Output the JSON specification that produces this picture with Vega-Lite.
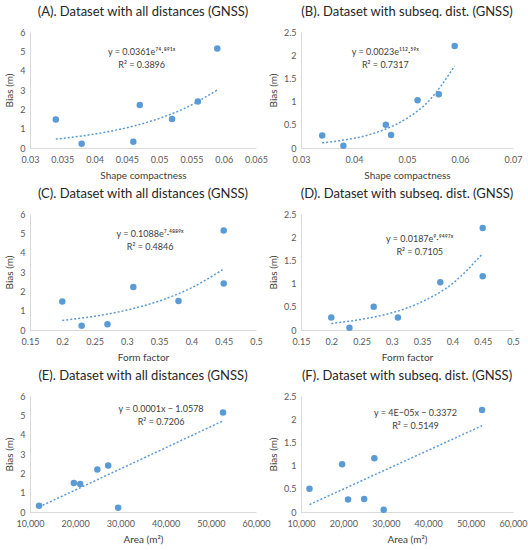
{
  "$schema": "https://vega.github.io/schema/vega-lite/v6.json",
  "padding": {"left": 4, "top": 6, "right": 2, "bottom": 2},
  "datasets": {
    "pts": [
      {"panel": "A", "x": 0.034, "y": 1.47}, {"panel": "A", "x": 0.038, "y": 0.22}, {"panel": "A", "x": 0.046, "y": 0.32},
      {"panel": "A", "x": 0.047, "y": 2.22}, {"panel": "A", "x": 0.052, "y": 1.5}, {"panel": "A", "x": 0.056, "y": 2.4},
      {"panel": "A", "x": 0.059, "y": 5.15},
      {"panel": "B", "x": 0.034, "y": 0.27}, {"panel": "B", "x": 0.038, "y": 0.05}, {"panel": "B", "x": 0.046, "y": 0.5},
      {"panel": "B", "x": 0.047, "y": 0.28}, {"panel": "B", "x": 0.052, "y": 1.03}, {"panel": "B", "x": 0.056, "y": 1.16},
      {"panel": "B", "x": 0.059, "y": 2.2},
      {"panel": "C", "x": 0.2, "y": 1.47}, {"panel": "C", "x": 0.23, "y": 0.22}, {"panel": "C", "x": 0.27, "y": 0.3},
      {"panel": "C", "x": 0.31, "y": 2.22}, {"panel": "C", "x": 0.38, "y": 1.5}, {"panel": "C", "x": 0.45, "y": 2.4},
      {"panel": "C", "x": 0.45, "y": 5.15},
      {"panel": "D", "x": 0.2, "y": 0.27}, {"panel": "D", "x": 0.23, "y": 0.05}, {"panel": "D", "x": 0.27, "y": 0.5},
      {"panel": "D", "x": 0.31, "y": 0.27}, {"panel": "D", "x": 0.38, "y": 1.03}, {"panel": "D", "x": 0.45, "y": 1.16},
      {"panel": "D", "x": 0.45, "y": 2.2},
      {"panel": "E", "x": 12000, "y": 0.32}, {"panel": "E", "x": 19700, "y": 1.5}, {"panel": "E", "x": 21100, "y": 1.45},
      {"panel": "E", "x": 24900, "y": 2.2}, {"panel": "E", "x": 27300, "y": 2.4}, {"panel": "E", "x": 29500, "y": 0.22},
      {"panel": "E", "x": 52700, "y": 5.15},
      {"panel": "F", "x": 12000, "y": 0.5}, {"panel": "F", "x": 19700, "y": 1.03}, {"panel": "F", "x": 21100, "y": 0.27},
      {"panel": "F", "x": 24900, "y": 0.28}, {"panel": "F", "x": 27300, "y": 1.16}, {"panel": "F", "x": 29500, "y": 0.05},
      {"panel": "F", "x": 52700, "y": 2.2}
    ],
    "trend": [
      {"panel": "A", "x": 0.034, "y": 0.46}, {"panel": "A", "x": 0.038, "y": 0.62}, {"panel": "A", "x": 0.042, "y": 0.84},
      {"panel": "A", "x": 0.046, "y": 1.13}, {"panel": "A", "x": 0.05, "y": 1.53}, {"panel": "A", "x": 0.054, "y": 2.06},
      {"panel": "A", "x": 0.059, "y": 3.0},
      {"panel": "B", "x": 0.034, "y": 0.11}, {"panel": "B", "x": 0.038, "y": 0.17}, {"panel": "B", "x": 0.042, "y": 0.26},
      {"panel": "B", "x": 0.046, "y": 0.41}, {"panel": "B", "x": 0.05, "y": 0.64}, {"panel": "B", "x": 0.054, "y": 1.0},
      {"panel": "B", "x": 0.059, "y": 1.77},
      {"panel": "C", "x": 0.2, "y": 0.49}, {"panel": "C", "x": 0.25, "y": 0.71}, {"panel": "C", "x": 0.3, "y": 1.03},
      {"panel": "C", "x": 0.35, "y": 1.5}, {"panel": "C", "x": 0.4, "y": 2.18}, {"panel": "C", "x": 0.45, "y": 3.16},
      {"panel": "D", "x": 0.2, "y": 0.14}, {"panel": "D", "x": 0.25, "y": 0.23}, {"panel": "D", "x": 0.3, "y": 0.37},
      {"panel": "D", "x": 0.35, "y": 0.61}, {"panel": "D", "x": 0.4, "y": 1.0}, {"panel": "D", "x": 0.45, "y": 1.65},
      {"panel": "E", "x": 12000, "y": 0.26}, {"panel": "E", "x": 52700, "y": 4.71},
      {"panel": "F", "x": 12000, "y": 0.16}, {"panel": "F", "x": 52700, "y": 1.86}
    ],
    "eq": [
      {"panel": "A", "x": 0.0473, "y": 4.94, "label": ["y = 0.0361e⁷⁴·⁸⁹¹ˣ", "R² = 0.3896"]},
      {"panel": "B", "x": 0.0459, "y": 2.06, "label": ["y = 0.0023e¹¹²·⁵⁹ˣ", "R² = 0.7317"]},
      {"panel": "C", "x": 0.336, "y": 4.95, "label": ["y = 0.1088e⁷·⁴⁸⁸⁹ˣ", "R² = 0.4846"]},
      {"panel": "D", "x": 0.346, "y": 1.96, "label": ["y = 0.0187e⁹·⁹⁴⁹⁷ˣ", "R² = 0.7105"]},
      {"panel": "E", "x": 39000, "y": 5.33, "label": ["y = 0.0001x − 1.0578", "R² = 0.7206"]},
      {"panel": "F", "x": 37000, "y": 2.14, "label": ["y = 4E−05x − 0.3372", "R² = 0.5149"]}
    ]
  },
  "columns": 2,
  "align": "each",
  "bounds": "flush",
  "spacing": {"column": 45, "row": 66},
  "concat": [
    {
      "title": "(A). Dataset with all distances (GNSS)",
      "width": 226, "height": 116,
      "encoding": {
        "x": {"field": "x", "type": "quantitative", "title": "Shape compactness",
              "scale": {"domain": [0.03, 0.065], "nice": false, "zero": false},
              "axis": {"values": [0.03, 0.035, 0.04, 0.045, 0.05, 0.055, 0.06, 0.065], "format": "~g"}},
        "y": {"field": "y", "type": "quantitative", "title": "Bias (m)",
              "scale": {"domain": [0, 6], "nice": false},
              "axis": {"values": [0, 1, 2, 3, 4, 5, 6], "format": "~g"}}
      },
      "layer": [
        {"data": {"name": "trend"}, "transform": [{"filter": "datum.panel === 'A'"}],
         "mark": {"type": "line", "color": "#5B9BD5", "strokeDash": [2, 2], "strokeWidth": 1.5, "interpolate": "monotone"}},
        {"data": {"name": "pts"}, "transform": [{"filter": "datum.panel === 'A'"}],
         "mark": {"type": "circle", "color": "#5B9BD5", "size": 42, "opacity": 1}},
        {"data": {"name": "eq"}, "transform": [{"filter": "datum.panel === 'A'"}],
         "mark": {"type": "text", "font": "Lato", "fontSize": 9, "color": "#404040", "lineHeight": 13, "baseline": "middle"},
         "encoding": {"text": {"field": "label"}}}
      ]
    },
    {
      "title": "(B). Dataset with subseq. dist. (GNSS)",
      "width": 212, "height": 116,
      "encoding": {
        "x": {"field": "x", "type": "quantitative", "title": "Shape compactness",
              "scale": {"domain": [0.03, 0.07], "nice": false, "zero": false},
              "axis": {"values": [0.03, 0.04, 0.05, 0.06, 0.07], "format": "~g"}},
        "y": {"field": "y", "type": "quantitative", "title": "Bias (m)",
              "scale": {"domain": [0, 2.5], "nice": false},
              "axis": {"values": [0, 0.5, 1, 1.5, 2, 2.5], "format": "~g"}}
      },
      "layer": [
        {"data": {"name": "trend"}, "transform": [{"filter": "datum.panel === 'B'"}],
         "mark": {"type": "line", "color": "#5B9BD5", "strokeDash": [2, 2], "strokeWidth": 1.5, "interpolate": "monotone"}},
        {"data": {"name": "pts"}, "transform": [{"filter": "datum.panel === 'B'"}],
         "mark": {"type": "circle", "color": "#5B9BD5", "size": 42, "opacity": 1}},
        {"data": {"name": "eq"}, "transform": [{"filter": "datum.panel === 'B'"}],
         "mark": {"type": "text", "font": "Lato", "fontSize": 9, "color": "#404040", "lineHeight": 13, "baseline": "middle"},
         "encoding": {"text": {"field": "label"}}}
      ]
    },
    {
      "title": "(C). Dataset with all distances (GNSS)",
      "width": 226, "height": 116,
      "encoding": {
        "x": {"field": "x", "type": "quantitative", "title": "Form factor",
              "scale": {"domain": [0.15, 0.5], "nice": false, "zero": false},
              "axis": {"values": [0.15, 0.2, 0.25, 0.3, 0.35, 0.4, 0.45, 0.5], "format": "~g"}},
        "y": {"field": "y", "type": "quantitative", "title": "Bias (m)",
              "scale": {"domain": [0, 6], "nice": false},
              "axis": {"values": [0, 1, 2, 3, 4, 5, 6], "format": "~g"}}
      },
      "layer": [
        {"data": {"name": "trend"}, "transform": [{"filter": "datum.panel === 'C'"}],
         "mark": {"type": "line", "color": "#5B9BD5", "strokeDash": [2, 2], "strokeWidth": 1.5, "interpolate": "monotone"}},
        {"data": {"name": "pts"}, "transform": [{"filter": "datum.panel === 'C'"}],
         "mark": {"type": "circle", "color": "#5B9BD5", "size": 42, "opacity": 1}},
        {"data": {"name": "eq"}, "transform": [{"filter": "datum.panel === 'C'"}],
         "mark": {"type": "text", "font": "Lato", "fontSize": 9, "color": "#404040", "lineHeight": 13, "baseline": "middle"},
         "encoding": {"text": {"field": "label"}}}
      ]
    },
    {
      "title": "(D). Dataset with subseq. dist. (GNSS)",
      "width": 212, "height": 116,
      "encoding": {
        "x": {"field": "x", "type": "quantitative", "title": "Form factor",
              "scale": {"domain": [0.15, 0.5], "nice": false, "zero": false},
              "axis": {"values": [0.15, 0.2, 0.25, 0.3, 0.35, 0.4, 0.45, 0.5], "format": "~g"}},
        "y": {"field": "y", "type": "quantitative", "title": "Bias (m)",
              "scale": {"domain": [0, 2.5], "nice": false},
              "axis": {"values": [0, 0.5, 1, 1.5, 2, 2.5], "format": "~g"}}
      },
      "layer": [
        {"data": {"name": "trend"}, "transform": [{"filter": "datum.panel === 'D'"}],
         "mark": {"type": "line", "color": "#5B9BD5", "strokeDash": [2, 2], "strokeWidth": 1.5, "interpolate": "monotone"}},
        {"data": {"name": "pts"}, "transform": [{"filter": "datum.panel === 'D'"}],
         "mark": {"type": "circle", "color": "#5B9BD5", "size": 42, "opacity": 1}},
        {"data": {"name": "eq"}, "transform": [{"filter": "datum.panel === 'D'"}],
         "mark": {"type": "text", "font": "Lato", "fontSize": 9, "color": "#404040", "lineHeight": 13, "baseline": "middle"},
         "encoding": {"text": {"field": "label"}}}
      ]
    },
    {
      "title": "(E). Dataset with all distances (GNSS)",
      "width": 226, "height": 116,
      "encoding": {
        "x": {"field": "x", "type": "quantitative", "title": "Area (m²)",
              "scale": {"domain": [10000, 60000], "nice": false, "zero": false},
              "axis": {"values": [10000, 20000, 30000, 40000, 50000, 60000], "format": ",.0f"}},
        "y": {"field": "y", "type": "quantitative", "title": "Bias (m)",
              "scale": {"domain": [0, 6], "nice": false},
              "axis": {"values": [0, 1, 2, 3, 4, 5, 6], "format": "~g"}}
      },
      "layer": [
        {"data": {"name": "trend"}, "transform": [{"filter": "datum.panel === 'E'"}],
         "mark": {"type": "line", "color": "#5B9BD5", "strokeDash": [2, 2], "strokeWidth": 1.5}},
        {"data": {"name": "pts"}, "transform": [{"filter": "datum.panel === 'E'"}],
         "mark": {"type": "circle", "color": "#5B9BD5", "size": 42, "opacity": 1}},
        {"data": {"name": "eq"}, "transform": [{"filter": "datum.panel === 'E'"}],
         "mark": {"type": "text", "font": "Lato", "fontSize": 9, "color": "#404040", "lineHeight": 13, "baseline": "middle"},
         "encoding": {"text": {"field": "label"}}}
      ]
    },
    {
      "title": "(F). Dataset with subseq. dist. (GNSS)",
      "width": 212, "height": 116,
      "encoding": {
        "x": {"field": "x", "type": "quantitative", "title": "Area (m²)",
              "scale": {"domain": [10000, 60000], "nice": false, "zero": false},
              "axis": {"values": [10000, 20000, 30000, 40000, 50000, 60000], "format": ",.0f"}},
        "y": {"field": "y", "type": "quantitative", "title": "Bias (m)",
              "scale": {"domain": [0, 2.5], "nice": false},
              "axis": {"values": [0, 0.5, 1, 1.5, 2, 2.5], "format": "~g"}}
      },
      "layer": [
        {"data": {"name": "trend"}, "transform": [{"filter": "datum.panel === 'F'"}],
         "mark": {"type": "line", "color": "#5B9BD5", "strokeDash": [2, 2], "strokeWidth": 1.5}},
        {"data": {"name": "pts"}, "transform": [{"filter": "datum.panel === 'F'"}],
         "mark": {"type": "circle", "color": "#5B9BD5", "size": 42, "opacity": 1}},
        {"data": {"name": "eq"}, "transform": [{"filter": "datum.panel === 'F'"}],
         "mark": {"type": "text", "font": "Lato", "fontSize": 9, "color": "#404040", "lineHeight": 13, "baseline": "middle"},
         "encoding": {"text": {"field": "label"}}}
      ]
    }
  ],
  "config": {
    "view": {"stroke": null},
    "font": "Lato",
    "title": {"font": "Lato", "fontSize": 13, "fontWeight": "normal", "color": "#262626", "anchor": "middle", "offset": 9},
    "axis": {
      "grid": false, "ticks": false, "domainColor": "#D9D9D9", "domainWidth": 1,
      "labelFont": "Lato", "labelFontSize": 9, "labelColor": "#595959", "labelFlush": false,
      "titleFont": "Lato", "titleFontSize": 10, "titleFontWeight": "normal", "titleColor": "#404040"
    },
    "axisX": {"labelPadding": 7, "titlePadding": 6},
    "axisY": {"labelPadding": 5, "titlePadding": 5}
  }
}
